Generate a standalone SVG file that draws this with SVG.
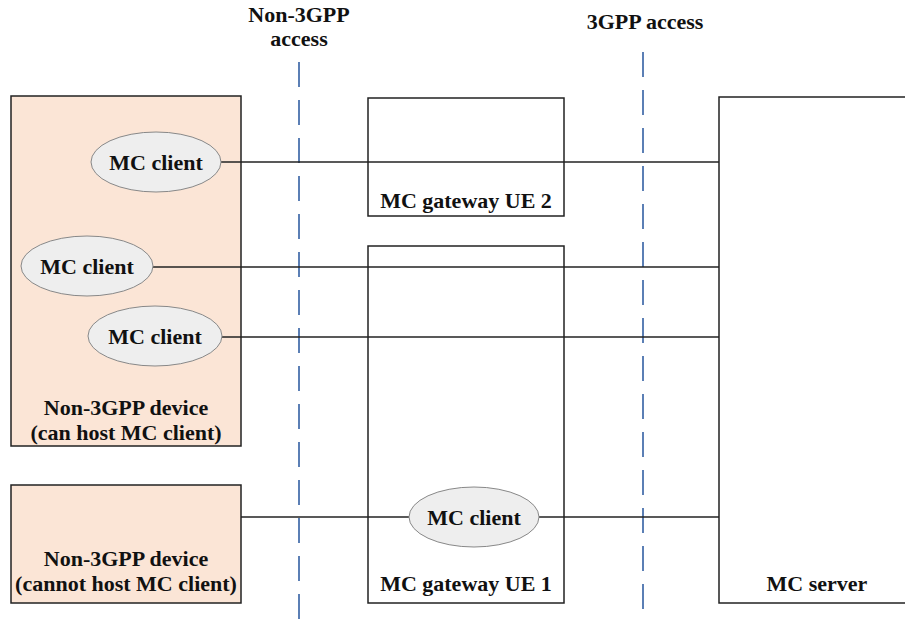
<svg xmlns="http://www.w3.org/2000/svg" width="905" height="620" viewBox="0 0 905 620">
<style>
text{font-family:"Liberation Serif","Times New Roman",serif;font-weight:bold;font-size:22px;fill:#111;text-anchor:middle}
.dev{fill:#FBE5D6;stroke:#222;stroke-width:1.5}
.box{fill:#fff;stroke:#222;stroke-width:1.5}
.cl{fill:#EEEEEE;stroke:#888;stroke-width:1}
.ln{stroke:#222;stroke-width:1.5;fill:none}
.dash{stroke:#5B7FB5;stroke-width:2;stroke-dasharray:25 13;fill:none}
</style>
<rect width="905" height="620" fill="#fff"/>
<g id="boundaries">
<line class="dash" x1="299" y1="62" x2="299" y2="620"/>
<line class="dash" x1="643" y1="52" x2="643" y2="620"/>
<text x="299" y="22">Non-3GPP</text>
<text x="299" y="46">access</text>
<text x="645" y="29">3GPP access</text>
</g>
<g id="device1">
<rect class="dev" x="11" y="96" width="230" height="350"/>
<text x="126" y="415">Non-3GPP device</text>
<text x="126" y="440">(can host MC client)</text>
</g>
<g id="device2">
<rect class="dev" x="11" y="485" width="230" height="118"/>
<text x="126" y="566">Non-3GPP device</text>
<text x="126" y="591">(cannot host MC client)</text>
</g>
<g id="gw2">
<rect class="box" x="368" y="98" width="196" height="118"/>
<text x="466" y="208">MC gateway UE 2</text>
</g>
<g id="gw1">
<rect class="box" x="368" y="246" width="196" height="357"/>
<text x="466" y="591">MC gateway UE 1</text>
</g>
<g id="server">
<rect class="box" x="719" y="97" width="200" height="506"/>
<text x="817" y="591">MC server</text>
</g>
<g id="connectors">
<line class="ln" x1="221" y1="162" x2="719" y2="162"/>
<line class="ln" x1="153" y1="267" x2="719" y2="267"/>
<line class="ln" x1="222" y1="337" x2="719" y2="337"/>
<line class="ln" x1="241" y1="517" x2="409" y2="517"/>
<line class="ln" x1="539" y1="517" x2="719" y2="517"/>
</g>
<g id="client1">
<ellipse class="cl" cx="156" cy="162" rx="65" ry="30"/>
<text x="156" y="170">MC client</text>
</g>
<g id="client2">
<ellipse class="cl" cx="87" cy="266" rx="66" ry="30"/>
<text x="87" y="274">MC client</text>
</g>
<g id="client3">
<ellipse class="cl" cx="155" cy="336" rx="67" ry="30"/>
<text x="155" y="344">MC client</text>
</g>
<g id="client4">
<ellipse class="cl" cx="474" cy="517" rx="65" ry="30"/>
<text x="474" y="525">MC client</text>
</g>
</svg>
